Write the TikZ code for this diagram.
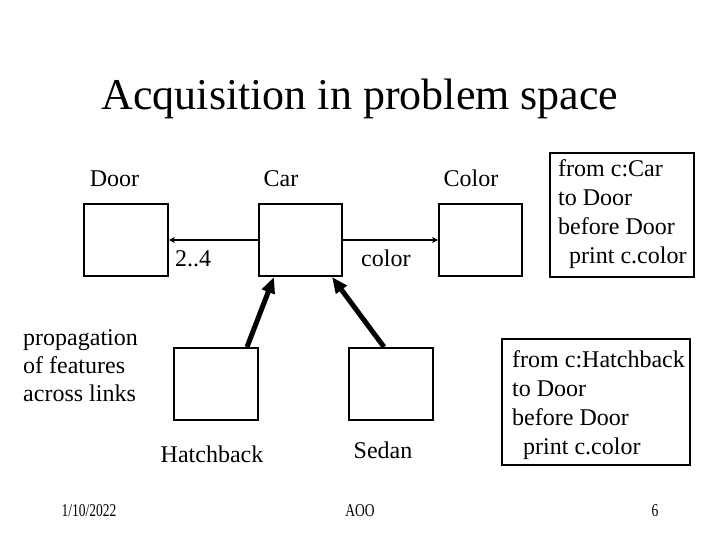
\documentclass[tikz,border=0pt]{standalone}
\usepackage{fontspec}
\setmainfont{Liberation Serif}
\usetikzlibrary{arrows.meta,calc}
\begin{document}
\begin{tikzpicture}[x=1pt,y=-1pt,
  box/.style={draw,line width=2pt,rectangle,inner sep=0pt},
  lbl/.style={inner sep=0pt,font=\fontsize{24}{29}\selectfont},
  link/.style={line width=2pt,-{Stealth[length=6pt,width=6pt]}},
  inherit/.style={line width=5pt,-{Triangle[length=16pt,width=13pt]}},
  foot/.style={inner sep=0pt,anchor=base}]
\useasboundingbox (0,0) rectangle (720,540);
% title
\node[inner sep=0pt,anchor=base,font=\fontsize{44}{50}\selectfont] (title) at (360,110) {Acquisition in problem space};
% class boxes
\node[box,minimum width=84pt,minimum height=72pt] (door) at (126,240) {};
\node[box,minimum width=83pt,minimum height=72pt] (car) at (300.5,240) {};
\node[box,minimum width=83pt,minimum height=72pt] (color) at (480.5,240) {};
\node[box,minimum width=84pt,minimum height=72pt] (hatch) at (216,384) {};
\node[box,minimum width=84pt,minimum height=72pt] (sedan) at (391,384) {};
% class labels
\node[lbl,anchor=base] (ldoor) at (114.5,187) {Door};
\node[lbl,anchor=base] (lcar) at (281,187) {Car};
\node[lbl,anchor=base] (lcolor) at (471,187) {Color};
\node[lbl,anchor=base] (lhatch) at (212,462) {Hatchback};
\node[lbl,anchor=base] (lsedan) at (383,458) {Sedan};
% links
\draw[link] (car.west) -- (door.east);
\draw[link] (car.east) -- (color.west);
\node[lbl,anchor=base west] (mult) at (175,266) {2..4};
\node[lbl,anchor=base west] (rolec) at (361,266) {color};
% inheritance arrows
\coordinate (h1) at ($(hatch.north east)+(-12,0)$);
\coordinate (h2) at ($(car.south west)+(16,0)$);
\coordinate (s1) at ($(sedan.north west)+(36,0)$);
\coordinate (s2) at ($(car.south east)+(-11,0)$);
\draw[inherit] (h1) -- (h2);
\draw[inherit] (s1) -- (s2);
% side note
\node[lbl,anchor=base west] (prop) at (23,345) {\vtop{\baselineskip=28pt\hbox{propagation}\hbox{of features}\hbox{across links}}};
% rule boxes
\node[box,minimum width=144pt,minimum height=124pt] (rule1) at (622,215) {};
\node[lbl,anchor=base west] (rule1t) at (558,177) {\vtop{\baselineskip=29pt\hbox{from c:Car}\hbox{to Door}\hbox{before Door}\hbox{\hspace{11pt}print c.color}}};
\node[box,minimum width=188pt,minimum height=126pt] (rule2) at (596,402) {};
\node[lbl,anchor=base west] (rule2t) at (512,367) {\vtop{\baselineskip=29pt\hbox{from c:Hatchback}\hbox{to Door}\hbox{before Door}\hbox{\hspace{11pt}print c.color}}};
% footer
\node[foot] (date) at (89,516) {\scalebox{0.75}[1]{\fontsize{18}{18}\selectfont 1/10/2022}};
\node[foot] (aoo) at (360,516) {\scalebox{0.75}[1]{\fontsize{18}{18}\selectfont AOO}};
\node[foot] (page) at (655,516) {\scalebox{0.75}[1]{\fontsize{18}{18}\selectfont 6}};
\end{tikzpicture}
\end{document}
